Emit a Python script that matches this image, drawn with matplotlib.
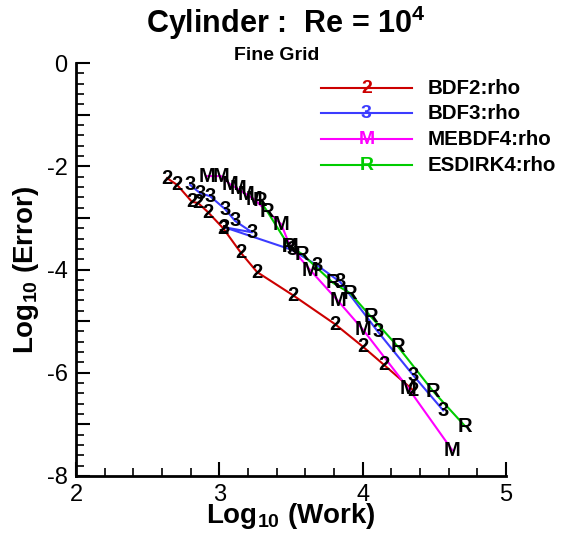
import matplotlib
matplotlib.use('Agg')
import matplotlib.pyplot as plt
from matplotlib.ticker import MultipleLocator, FuncFormatter

plt.rcParams['font.family'] = ['Liberation Sans', 'DejaVu Sans']
plt.rcParams['mathtext.fontset'] = 'custom'
plt.rcParams['mathtext.rm'] = 'Liberation Sans:bold'
plt.rcParams['mathtext.bf'] = 'Liberation Sans:bold'

# log10(work), log10(error)
bdf2_x = [2.635, 2.705, 2.809, 2.851, 2.921, 3.026, 3.151, 3.263, 3.514, 3.807, 4.003, 4.149, 4.352]
bdf2_y = [-2.23, -2.36, -2.69, -2.71, -2.89, -3.20, -3.68, -4.05, -4.50, -5.06, -5.50, -5.85, -6.34]

bdf3_x = [2.796, 2.865, 2.935, 3.040, 3.110, 3.228, 3.033, 3.507, 3.682, 3.842, 4.107, 4.352, 4.561]
bdf3_y = [-2.36, -2.52, -2.58, -2.83, -3.06, -3.28, -3.18, -3.62, -3.92, -4.24, -5.21, -6.05, -6.73]

mebdf4_x = [2.914, 3.012, 3.075, 3.130, 3.186, 3.242, 3.431, 3.493, 3.633, 3.828, 4.003, 4.317, 4.624]
mebdf4_y = [-2.19, -2.19, -2.35, -2.44, -2.54, -2.64, -3.12, -3.55, -4.01, -4.61, -5.17, -6.30, -7.50]

esdirk4_x = [3.284, 3.333, 3.486, 3.577, 3.793, 3.912, 4.059, 4.247, 4.491, 4.715]
esdirk4_y = [-2.67, -2.87, -3.55, -3.70, -4.26, -4.46, -4.92, -5.50, -6.36, -7.04]

series = [
    (bdf2_x, bdf2_y, '2', '#cc0000', 'BDF2:rho'),
    (bdf3_x, bdf3_y, '3', '#3c3cff', 'BDF3:rho'),
    (mebdf4_x, mebdf4_y, 'M', '#ff00ff', 'MEBDF4:rho'),
    (esdirk4_x, esdirk4_y, 'R', '#00cc00', 'ESDIRK4:rho'),
]

fig = plt.figure(figsize=(5.63, 5.39), dpi=100)
ax = fig.add_axes([0.135, 0.117, 0.764, 0.766])

for xs, ys, sym, col, lab in series:
    ax.plot(xs, ys, color=col, lw=1.5, zorder=2)
for xs, ys, sym, col, lab in series:
    for x, y in zip(xs, ys):
        ax.text(x, y, sym, ha='center', va='center', fontsize=14.5,
                fontweight='bold', color='black', zorder=3)

# legend drawn by hand in axes fraction coordinates
rows = [0.939, 0.879, 0.816, 0.753]
for (xs, ys, sym, col, lab), yr in zip(series, rows):
    ax.plot([0.570, 0.781], [yr, yr], color=col, lw=1.5, transform=ax.transAxes)
    ax.text(0.675, yr, sym, transform=ax.transAxes, ha='center', va='center',
            fontsize=14, fontweight='bold', color=col)
    ax.text(0.818, yr, lab, transform=ax.transAxes, ha='left', va='center',
            fontsize=14.8, fontweight='bold', color='black')

ax.set_xlim(2, 5)
ax.set_ylim(-8, 0)
ax.xaxis.set_major_locator(MultipleLocator(1))
ax.xaxis.set_minor_locator(MultipleLocator(0.2))
ax.yaxis.set_major_locator(MultipleLocator(1))
ax.yaxis.set_minor_locator(MultipleLocator(0.2))
ax.yaxis.set_major_formatter(FuncFormatter(lambda v, p: '%d' % v if int(round(v)) % 2 == 0 else ''))
ax.xaxis.set_major_formatter(FuncFormatter(lambda v, p: '%d' % v))
ax.tick_params(which='major', direction='in', length=10, width=1.5, labelsize=17, pad=6)
ax.tick_params(which='minor', direction='in', length=6, width=1.2)
ax.spines['top'].set_visible(False)
ax.spines['right'].set_visible(False)
ax.spines['left'].set_linewidth(2)
ax.spines['bottom'].set_linewidth(2)

ax.set_xlabel(r'Log$_{\mathbf{10}}$ (Work)', fontsize=20, fontweight='bold', labelpad=-4)
ax.set_ylabel(r'Log$_{\mathbf{10}}$ (Error)', fontsize=20, fontweight='bold', labelpad=4)

fig.text(0.508, 0.957, r'Cylinder :  Re = 10$^{\mathbf{4}}$', ha='center', va='center',
         fontsize=22, fontweight='bold')
fig.text(0.492, 0.897, 'Fine Grid', ha='center', va='center', fontsize=14, fontweight='bold')

fig.savefig('out.png', dpi=100)
